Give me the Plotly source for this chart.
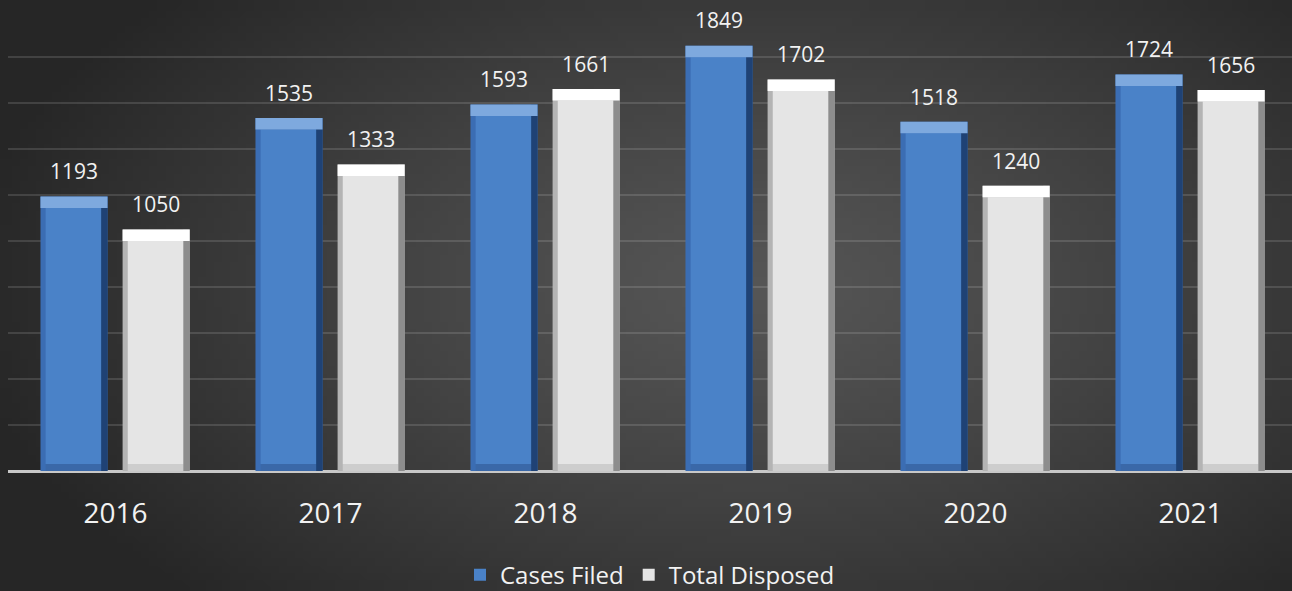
import base64, struct, zlib
import numpy as np
import plotly.graph_objects as go

# ---------------- data ----------------
years = ["2016", "2017", "2018", "2019", "2020", "2021"]
cases_filed = [1193, 1535, 1593, 1849, 1518, 1724]
total_disposed = [1050, 1333, 1661, 1702, 1240, 1656]
series_names = ["Cases Filed", "Total Disposed"]

# ---------------- background (radial gradient image) ----------------
def gradient_png(w=160, h=80):
    yy, xx = np.mgrid[0:h, 0:w]
    cx, cy = 0.58 * w, 0.48 * h
    r = np.sqrt(((xx - cx) / (0.62 * w)) ** 2 + ((yy - cy) / (0.75 * h)) ** 2)
    r = np.clip(r, 0, 1)
    inner, outer = 86.0, 38.0
    v = inner + (outer - inner) * r ** 1.2
    img = np.clip(v, 0, 255).astype(np.uint8)
    rgb = np.stack([img, img, img], axis=-1)
    raw = b"".join(b"\x00" + rgb[i].tobytes() for i in range(h))

    def chunk(tag, data):
        c = struct.pack(">I", len(data)) + tag + data
        return c + struct.pack(">I", zlib.crc32(tag + data) & 0xFFFFFFFF)

    png = b"\x89PNG\r\n\x1a\n"
    png += chunk(b"IHDR", struct.pack(">IIBBBBB", w, h, 8, 2, 0, 0, 0))
    png += chunk(b"IDAT", zlib.compress(raw, 9))
    png += chunk(b"IEND", b"")
    return "data:image/png;base64," + base64.b64encode(png).decode()

W, H = 1292, 591
ML, MR, MT, MB = 8, 0, 11, 120
PW, PH = W - ML - MR, H - MT - MB

fig = go.Figure()

BAR_W = 0.312
OFFS = [-0.349, 0.033]
TOP_BEV = 50      # value units
BOT_BEV = 30
SIDE = 0.03       # category units

styles = [
    dict(edge="#3b6db3", right="#1f4275", body="#4a82c8", top="#7ea9de", bottom="#3a68a8"),
    dict(edge="#b4b4b4", right="#8d8d8d", body="#e5e5e5", top="#ffffff", bottom="#cdcdcd"),
]

for k, (name, vals) in enumerate(zip(series_names, [cases_filed, total_disposed])):
    st = styles[k]
    o = OFFS[k]
    common = dict(x=years, hoverinfo="skip", legendgroup=name)
    # outer/edge layer
    fig.add_trace(go.Bar(y=vals, offset=o, width=BAR_W, marker=dict(color=st["edge"], line_width=0),
                         showlegend=False, **common))
    # right dark strip
    fig.add_trace(go.Bar(y=vals, offset=o + BAR_W - SIDE, width=SIDE,
                         marker=dict(color=st["right"], line_width=0), showlegend=False, **common))
    # bottom bevel
    fig.add_trace(go.Bar(y=[BOT_BEV] * len(vals), offset=o + SIDE * 0.8, width=BAR_W - SIDE * 1.8,
                         marker=dict(color=st["bottom"], line_width=0), showlegend=False, **common))
    # body
    fig.add_trace(go.Bar(y=[v - TOP_BEV - BOT_BEV for v in vals], base=[BOT_BEV] * len(vals),
                         offset=o + SIDE * 0.8, width=BAR_W - SIDE * 1.8,
                         marker=dict(color=st["body"], line_width=0), name=name, showlegend=True, **common))
    # top bevel
    fig.add_trace(go.Bar(y=[TOP_BEV] * len(vals), base=[v - TOP_BEV for v in vals], offset=o, width=BAR_W,
                         marker=dict(color=st["top"], line_width=0), showlegend=False, **common))
    # value labels (transparent spacer bar above each bar)
    fig.add_trace(go.Bar(y=[36] * len(vals), base=vals, offset=o, width=BAR_W,
                         marker=dict(color="rgba(0,0,0,0)", line_width=0),
                         text=[str(v) for v in vals], textposition="outside", cliponaxis=False,
                         textfont=dict(size=21, color="#f2f2f2", family="Open Sans"),
                         showlegend=False, **common))

fig.update_layout(
    width=W, height=H,
    margin=dict(l=ML, r=MR, t=MT, b=MB),
    barmode="overlay",
    paper_bgcolor="#3e3e3e",
    plot_bgcolor="rgba(0,0,0,0)",
    font=dict(family="Open Sans", color="#f2f2f2"),
    showlegend=True,
    legend=dict(orientation="h", x=0.5, xanchor="center", yref="container", y=0.027, yanchor="middle",
                font=dict(size=24, color="#f2f2f2"), itemwidth=30, traceorder="normal",
                bgcolor="rgba(0,0,0,0)"),
    images=[dict(source=gradient_png(), xref="paper", yref="paper",
                 x=-ML / PW, y=1 + MT / PH, sizex=W / PW, sizey=H / PH,
                 xanchor="left", yanchor="top", sizing="stretch", layer="below")],
    xaxis=dict(range=[-0.5, -0.5 + PW / 215.0], showgrid=False, zeroline=False,
               showline=False, ticks="", tickfont=dict(size=28, color="#f2f2f2"),
               ticklabelstandoff=23, fixedrange=True),
    yaxis=dict(range=[0, 2000], dtick=200, showgrid=True, gridcolor="rgba(255,255,255,0.13)",
               gridwidth=1.5, showticklabels=False, zeroline=True, zerolinecolor="#c8c8c8",
               zerolinewidth=3, ticks="", fixedrange=True),
)

fig.write_html("out.html", config={"displayModeBar": False},
               post_script="document.body.style.margin='0';document.body.style.overflow='hidden';")
